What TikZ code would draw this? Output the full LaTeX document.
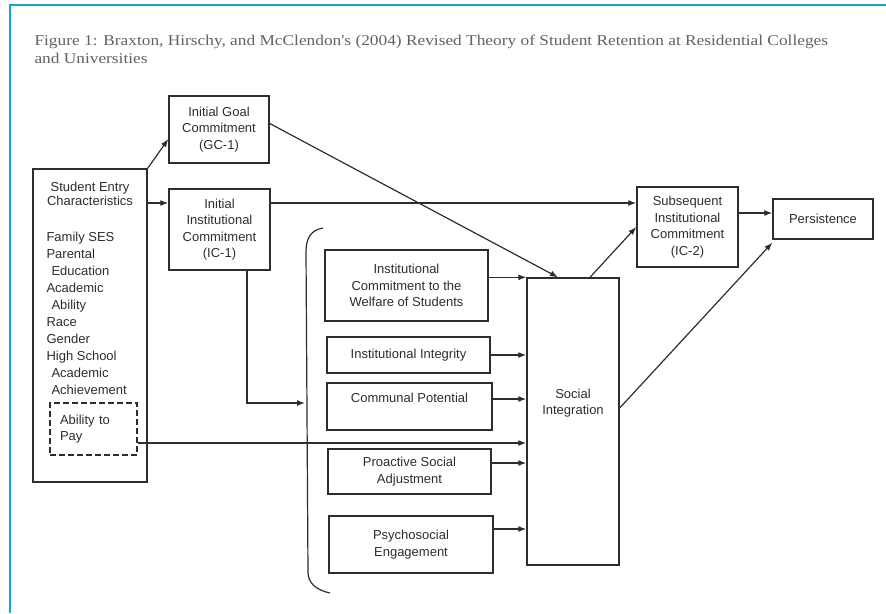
\documentclass[tikz,border=0pt]{standalone}
\usepackage{fontspec}
\setmainfont{Liberation Serif}
\setsansfont{Liberation Sans}
\newfontfamily\titlefont[FakeStretch=1.155]{Liberation Serif}
\usetikzlibrary{arrows.meta}
\definecolor{frame}{RGB}{20,165,200}
\definecolor{ink}{RGB}{45,45,45}
\tikzset{
  box/.style={draw=ink, line width=1.4pt, inner sep=2pt, align=center, text=ink,
    font=\sffamily\fontsize{13}{16.5}\selectfont},
  boxtext/.style={align=center, text=ink, font=\sffamily\fontsize{13}{16.5}\selectfont},
  link/.style={draw=ink, line width=1.2pt, -{Latex[length=8pt,width=6pt]}},
  heading/.style={anchor=base west, text=black!62, font=\titlefont\fontsize{15}{18}\selectfont},
}
\begin{document}
\begin{tikzpicture}[x=1pt,y=-1pt]
  \useasboundingbox (0,0) rectangle (886,613);
  % Frame
  \draw[frame, line width=2pt] (10,613) -- (10,5) -- (886,5);
  % Title
  \node[heading] (title1) at (31,45) {Figure 1: Braxton, Hirschy, and McClendon's (2004) Revised Theory of Student Retention at Residential Colleges};
  \node[heading] (title2) at (31,63) {and Universities};

  % Student entry characteristics
  \node[box, minimum width=114pt, minimum height=313pt] (entry) at (90,325.5) {};
  \node[boxtext, font=\sffamily\fontsize{13}{14}\selectfont] (entryhead) at (90,194) {Student Entry\\Characteristics};
  \node[boxtext, anchor=north west, align=left, font=\sffamily\fontsize{13}{17}\selectfont] (entrylist) at (43,228.5)
    {Family SES\\Parental\\\hspace{5pt}Education\\Academic\\\hspace{5pt}Ability\\Race\\Gender\\High School\\\hspace{5pt}Academic\\\hspace{5pt}Achievement};
  \node[box, dashed, dash pattern=on 6pt off 3pt, minimum width=87pt, minimum height=52pt,
    text width=67pt, inner xsep=10pt, align=left] (pay) at (93.5,429) {Ability to\\Pay};

  % Initial commitments
  \node[box, minimum width=100pt, minimum height=67pt] (gc) at (219,129.5) {Initial Goal\\Commitment\\(GC-1)};
  \node[box, minimum width=101pt, minimum height=81pt] (ic1) at (219.5,229.5) {Initial\\Institutional\\Commitment\\(IC-1)};

  % Bracketed group
  \draw[ink, line width=1.2pt] (323,228) .. controls (311,230) and (306,238) .. (306,252)
    -- (308,572) .. controls (308,583) and (316,590) .. (330,593);
  \node[box, minimum width=163pt, minimum height=71pt] (welfare) at (406.5,285.5) {Institutional\\Commitment to the\\Welfare of Students};
  \node[box, minimum width=163pt, minimum height=36pt] (integrity) at (408.5,355) {Institutional Integrity};
  \node[box, minimum width=165pt, minimum height=47pt] (communal) at (409.5,406.5) {Communal Potential\\\mbox{}};
  \node[box, minimum width=163pt, minimum height=45pt] (proactive) at (409.5,471.5) {Proactive Social\\Adjustment};
  \node[box, minimum width=164pt, minimum height=57pt] (psycho) at (411,544.5) {Psychosocial\\Engagement};

  % Social integration and outcomes
  \node[box, minimum width=92pt, minimum height=287pt,
    label={[boxtext, yshift=18.5pt]center:{Social\\Integration}}] (social) at (573,421.5) {};
  \node[box, minimum width=101pt, minimum height=80pt] (ic2) at (687.5,227) {Subsequent\\Institutional\\Commitment\\(IC-2)};
  \node[box, minimum width=100pt, minimum height=40pt] (persist) at (823,219) {Persistence};

  % Connectors
  \coordinate (row1) at (0,203);
  \coordinate (brk) at (305,403);
  \coordinate (payout) at ([yshift=-14pt]pay.east);
  \coordinate (p1) at ([yshift=6pt]persist.west);
  \draw[link] (entry.north east) -- ([yshift=-9.5pt]gc.west);
  \draw[link] (entry.east |- row1) -- (ic1.west |- row1);
  \draw[link] (ic1.east |- row1) -- (ic2.west |- row1);
  \draw[link] ([yshift=6pt]gc.east) -- ([xshift=-15pt]social.north);
  \draw[link] ([xshift=27.5pt]ic1.south) |- (brk);
  \draw[link] (payout) -- (social.west |- payout);
  \draw[link] (welfare.east |- social.north west) -- (social.north west);
  \draw[link] (integrity.east) -- (social.west |- integrity.east);
  \draw[link] ([yshift=7.5pt]communal.east) -- ([yshift=7.5pt]social.west |- communal.east);
  \draw[link] ([yshift=8.5pt]proactive.east) -- ([yshift=8.5pt]social.west |- proactive.east);
  \draw[link] ([yshift=15.5pt]psycho.east) -- ([yshift=15.5pt]social.west |- psycho.east);
  \draw[link] ([xshift=17pt]social.north) -- (ic2.west);
  \draw[link] (ic2.east |- p1) -- (p1);
  \draw[link] ([yshift=13.5pt]social.east) -- ([yshift=-3pt]persist.south west);
\end{tikzpicture}
\end{document}
